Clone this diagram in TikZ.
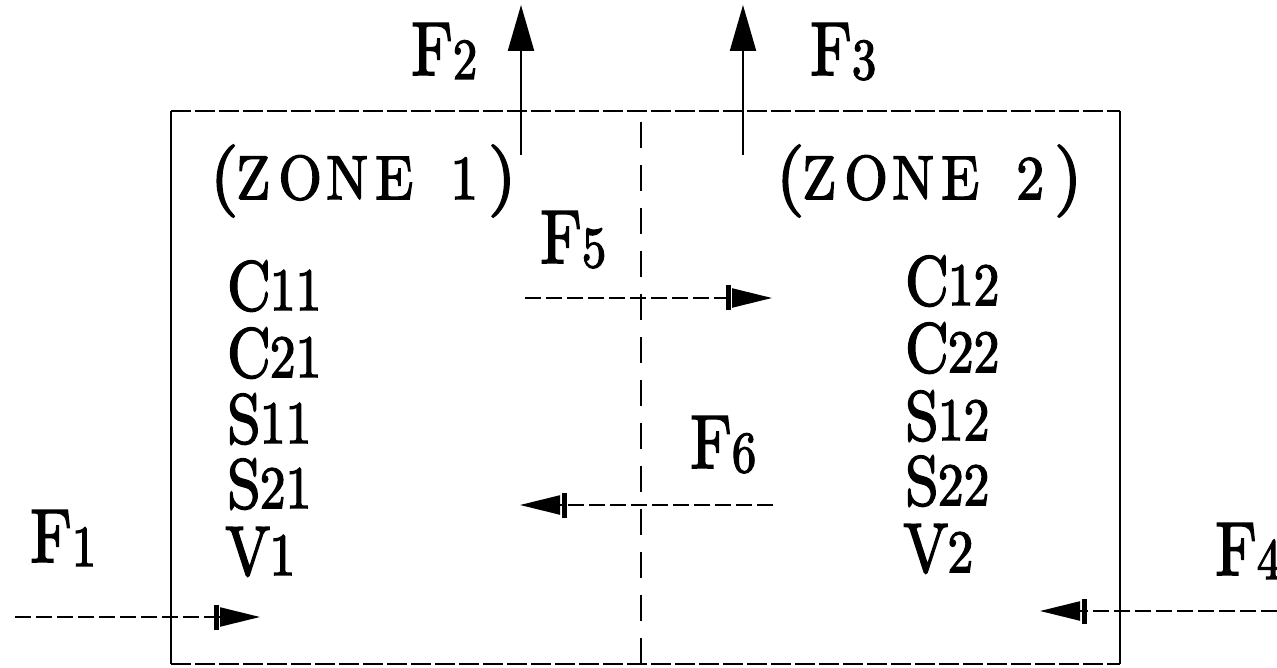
\documentclass[tikz,border=0pt]{standalone}
\usepackage{fontspec}
\setmainfont{lmroman10-regular.otf}[FakeBold=2.5]
\usetikzlibrary{arrows.meta}
\newcommand\flab[2]{\scalebox{0.84}[1]{\fontsize{76}{80}\selectfont #1\kern0pt\raisebox{-4pt}{\fontsize{58}{60}\selectfont #2}}}
\newcommand\vlab[2]{\scalebox{0.86}[1]{\fontsize{70}{80}\selectfont #1\kern-1pt{\fontsize{60}{64}\selectfont #2}}}
\newcommand\zc[2]{\rlap{\hspace*{#1pt}\makebox[0pt]{\scalebox{0.9}[1]{#2}}}}
\newcommand\zp[2]{\rlap{\hspace*{#1pt}\makebox[0pt]{\fontsize{72}{80}\selectfont #2}}}
\newcommand\zonetext[1]{\fontsize{62}{66}\selectfont\zp{0}{(}\zc{29}{Z}\zc{76}{O}\zc{123}{N}\zc{170}{E}\zc{240}{#1}\zp{278}{)}\hspace*{290pt}}
\begin{document}
\begin{tikzpicture}[x=1pt,y=-1pt,
  solidedge/.style={line width=2.6pt},
  finedash/.style={line width=2.6pt,dash pattern=on 20pt off 4pt},
  divider/.style={line width=2.6pt,dash pattern=on 26pt off 17pt},
  flow/.style={line width=2.2pt,dash pattern=on 16pt off 5pt,
    -{Bar[width=25pt,line width=5pt,sep=1.5pt]Triangle[length=40pt,width=19pt]}},
  upflow/.style={line width=2.2pt,-{Triangle[length=46pt,width=26pt]}},
  lab/.style={inner sep=0pt,anchor=base west}]
\useasboundingbox (0,0) rectangle (1277,668);
% box corners
\coordinate (TL) at (171,111);
\coordinate (TR) at (1120,111);
\coordinate (BR) at (1120,664);
\coordinate (BL) at (171,664);
\draw[solidedge] (TL) -- (BL);
\draw[solidedge] (TR) -- (BR);
\draw[finedash] (TL) -- (TR);
\draw[finedash] (BL) -- (BR);
% divider
\coordinate (dtop) at (641,122);
\coordinate (dbot) at (641,668);
\draw[divider] (dtop) -- (dbot);
% flow ends
\coordinate (f2s) at (521,155); \coordinate (f2e) at (521,5);
\coordinate (f3s) at (743,155); \coordinate (f3e) at (743,5);
\coordinate (f5s) at (525,298); \coordinate (f5e) at (772,298);
\coordinate (f6s) at (773,505); \coordinate (f6e) at (520,505);
\coordinate (f1s) at (15,617);  \coordinate (f1e) at (260,617);
\coordinate (f4s) at (1277,611); \coordinate (f4e) at (1040,611);
\draw[upflow] (f2s) -- (f2e);
\draw[upflow] (f3s) -- (f3e);
\draw[flow] (f5s) -- (f5e);
\draw[flow] (f6s) -- (f6e);
\draw[flow] (f1s) -- (f1e);
\draw[flow] (f4s) -- (f4e);
% flow labels
\node[lab] (F1) at (30,562) {\flab{F}{1}};
\node[lab] (F2) at (411,75) {\flab{F}{2}};
\node[lab] (F3) at (810,75) {\flab{F}{3}};
\node[lab] (F4) at (1215,575) {\flab{F}{4}};
\node[lab] (F5) at (540,263) {\flab{F}{5}};
\node[lab] (F6) at (690,468) {\flab{F}{6}};
% zone titles
\node[lab] (Z1) at (224,199) {\zonetext{1}};
\node[lab] (Z2) at (790,199) {\zonetext{2}};
% zone 1 variables
\node[lab] (C11) at (227,310) {\vlab{C}{11}};
\node[lab] (C21) at (227,377) {\vlab{C}{21}};
\node[lab] (S11) at (227,443) {\vlab{S}{11}};
\node[lab] (S21) at (227,508) {\vlab{S}{21}};
\node[lab] (V1)  at (225,575) {\vlab{V}{1}};
% zone 2 variables
\node[lab] (C12) at (905,305) {\vlab{C}{12}};
\node[lab] (C22) at (905,372) {\vlab{C}{22}};
\node[lab] (S12) at (905,440) {\vlab{S}{12}};
\node[lab] (S22) at (905,505) {\vlab{S}{22}};
\node[lab] (V2)  at (903,572) {\vlab{V}{2}};
\end{tikzpicture}
\end{document}
